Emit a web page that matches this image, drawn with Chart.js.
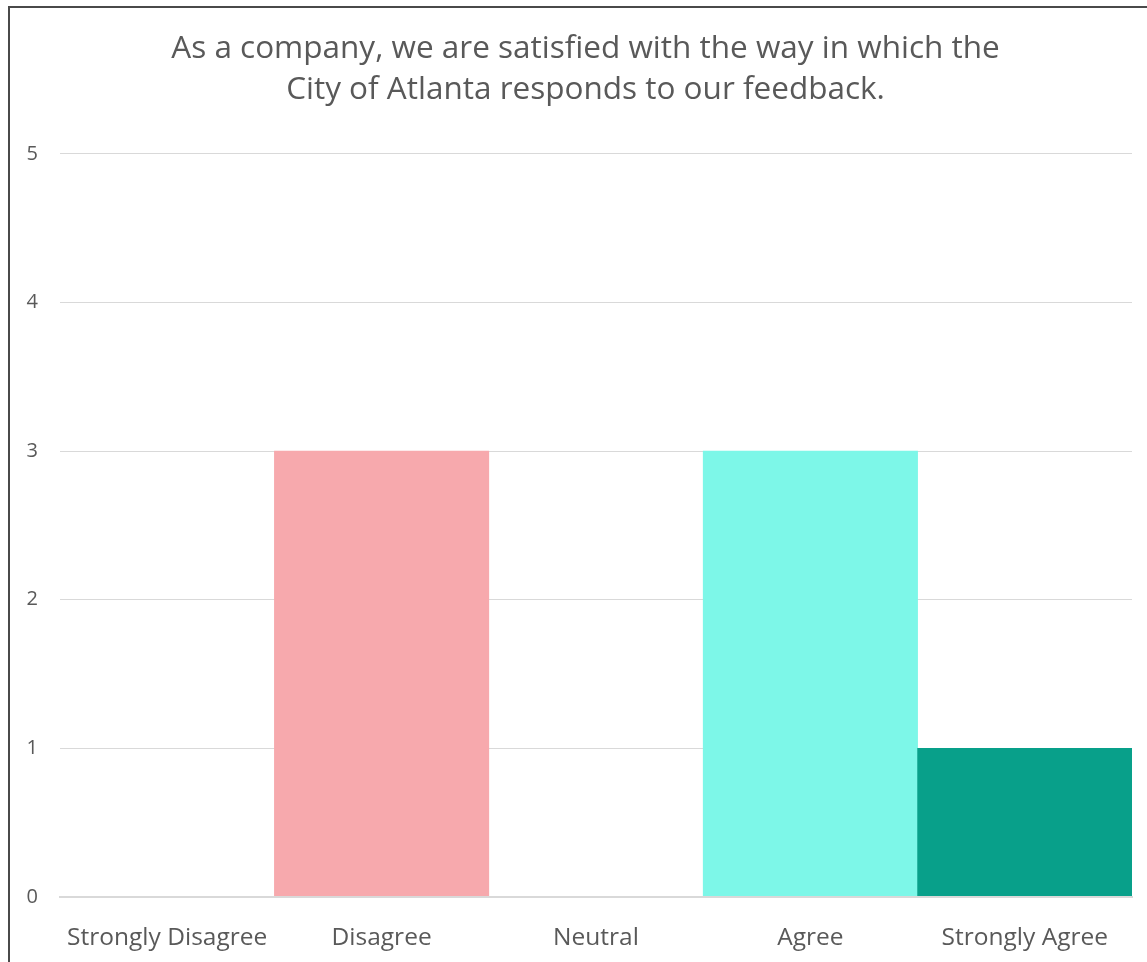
<!DOCTYPE html>
<html>
<head>
<meta charset="utf-8">
<script src="https://cdn.jsdelivr.net/npm/chart.js@4"></script>
<style>
  html, body { margin: 0; padding: 0; background: #fff; overflow: hidden; }
  #wrap { position: absolute; left: 0; top: 0; width: 1147px; height: 962px; }
  #frame { position: absolute; left: 8px; top: 6px; width: 1200px; height: 1000px;
           border-top: 2px solid #4a4a4a; border-left: 2px solid #4a4a4a; pointer-events: none; box-sizing: border-box; }
  canvas { position: absolute; left: 0; top: 0; }
</style>
</head>
<body>
<div id="wrap">
  <canvas id="c" width="1147" height="962"></canvas>
  <div id="frame"></div>
</div>
<script>
const titleLines = ["As a company, we are satisfied with the way in which the", "City of Atlanta responds to our feedback."];
const categories = ["Strongly Disagree", "Disagree", "Neutral", "Agree", "Strongly Agree"];
const responses = [0, 3, 0, 3, 1];
const barColors = ["#F7A9AD", "#F7A9AD", "#F7A9AD", "#7DF7E8", "#08A08A"];
const yTicks = [0, 1, 2, 3, 4, 5];

const fontFam = "'Open Sans', 'Noto Sans', sans-serif";
new Chart(document.getElementById('c'), {
  type: 'bar',
  data: {
    labels: categories,
    datasets: [{
      data: responses,
      backgroundColor: barColors,
      borderWidth: 0,
      barPercentage: 1.0,
      categoryPercentage: 1.0
    }]
  },
  options: {
    responsive: false,
    animation: false,
    events: [],
    layout: { padding: { left: 24, right: 0, top: 12, bottom: 0 } },
    plugins: {
      legend: { display: false },
      tooltip: { enabled: false },
      title: {
        display: true,
        text: titleLines,
        color: '#595959',
        font: { family: fontFam, size: 31.5, weight: 'normal', lineHeight: 1.3 },
        padding: { top: 17, bottom: 43 }
      }
    },
    scales: {
      x: {
        grid: { display: false },
        border: { display: true, color: '#d9d9d9', width: 2, z: 1 },
        ticks: { color: '#595959', font: { family: fontFam, size: 24.5 }, padding: 18, maxRotation: 0 },
        afterFit: (s) => { s.height = 65; }
      },
      y: {
        min: 0, max: 5,
        afterBuildTicks: (axis) => { axis.ticks = yTicks.map(v => ({ value: v })); },
        grid: { color: '#d9d9d9', lineWidth: 1, drawTicks: false },
        border: { display: false },
        ticks: { color: '#595959', font: { family: fontFam, size: 20 }, padding: 22 },
        afterFit: (s) => { s.width = 36; }
      },
      yRight: {
        position: 'right',
        min: 0, max: 5,
        grid: { display: false, drawTicks: false },
        border: { display: false },
        ticks: { display: false },
        afterFit: (s) => { s.width = 15; }
      }
    }
  }
});
</script>
</body>
</html>
